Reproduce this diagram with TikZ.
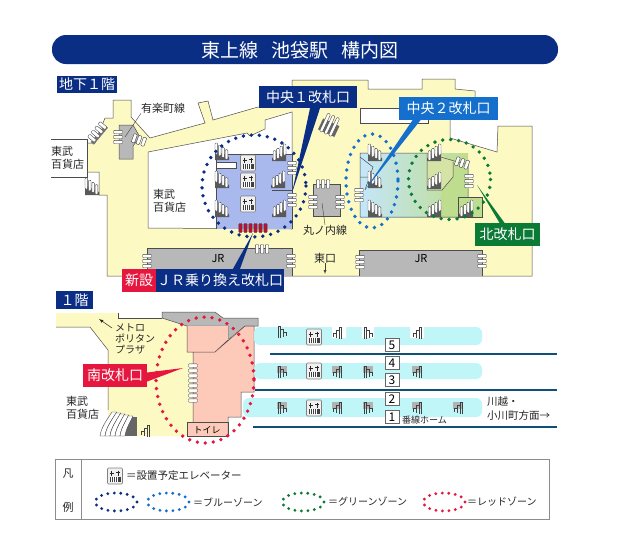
\documentclass[tikz,border=0pt]{standalone}
\usepackage{fontspec}
\setmainfont{Noto Sans CJK JP}
\definecolor{floorcream}{HTML}{FCF9C3}
\definecolor{stationgray}{HTML}{B8B8B8}
\definecolor{darknavy}{HTML}{0B2E85}
\definecolor{zoneblue}{HTML}{1470CC}
\definecolor{zonegreen}{HTML}{0B7A35}
\definecolor{zonered}{HTML}{E5173F}
\definecolor{bluefloor}{HTML}{A9B9EE}
\definecolor{skyfloor}{HTML}{C4E6FA}
\definecolor{pinkfloor}{HTML}{FDC9B9}
\definecolor{greenfloor}{HTML}{BFDD8F}
\definecolor{olivefloor}{HTML}{D5E3A5}
\definecolor{platformcyan}{HTML}{C0F6F8}
\definecolor{trackblue}{HTML}{0F4F78}
\tikzset{
  wall/.style={draw=black!70, line width=0.5pt},
  zonedots/.style={line width=3.8pt, line cap=round, dash pattern=on 0pt off 8pt},
  legenddots/.style={line width=3.2pt, line cap=round, dash pattern=on 0pt off 6.5pt},
  tag/.style={text=white, font=\fontsize{14}{14}\selectfont, inner sep=0pt, anchor=center},
  maptext/.style={font=\fontsize{11}{13}\selectfont, inner sep=0pt, align=left, text=black!85},
  smalltext/.style={font=\fontsize{10}{11}\selectfont, inner sep=0pt, align=left, text=black!85},
  numbox/.style={draw=black!60, fill=white, line width=0.6pt, minimum width=14pt, minimum height=13pt, inner sep=0pt, font=\fontsize{12}{12}\selectfont},
}
\newcommand{\stairicon}[3]{
  \begin{scope}[shift={(#1,#2)},xscale=#3]
    \fill[black!65] (-7,-2) -- (-7,8) -- (7,8) -- (7,5) -- cycle;
    \foreach \i in {0,1,2,3}
      \draw[black!70, fill=white, line width=0.4pt, rounded corners=0.8] (-7+3.4*\i,-9+2.2*\i) rectangle (-4.4+3.4*\i,2+1.8*\i);
  \end{scope}
}
\newcommand{\ministair}[3]{
  \begin{scope}[shift={(#1,#2)},xscale=#3]
    \draw[black!75, line width=0.6pt] (-4,6) -- (-4,-6) -- (-2,-6) -- (-2,6);
    \draw[black!75, line width=0.6pt] (-2,-3) -- (1,-3) -- (1,5);
    \draw[black!75, line width=0.6pt] (1,0) -- (4,0) -- (4,4);
  \end{scope}
}
\newcommand{\elevicon}[2]{
  \begin{scope}[shift={(#1,#2)}]
    \draw[black!50, fill=black!6, line width=0.6pt, rounded corners=1] (-7.5,-8) rectangle (7.5,8);
    \draw[black!85, line width=0.7pt] (-3.5,-5.5) -- (-3.5,-0.5) (-5.5,-3) -- (-1.5,-3) (3,-5.5) -- (3,-0.5) (1,-3.5) -- (5,-3.5);
    \fill[black!75] (-5.5,0.5) rectangle (5.5,6);
    \foreach \i in {-3.5,-1.5,0.5,2.5}
      \draw[white, line width=0.4pt] (\i,1) -- (\i,6);
  \end{scope}
}
\newcommand{\gaterow}[5]{
  \begin{scope}[shift={(#1,#2)},rotate=#3]
    \foreach \i in {1,...,#4}
      \draw[black!75, fill=#5, line width=0.4pt, rounded corners=0.8] (-4.5,{(\i-(#4+1)/2)*5-1.7}) rectangle (4.5,{(\i-(#4+1)/2)*5+1.7});
  \end{scope}
}
\begin{document}
\begin{tikzpicture}[x=1pt,y=-1pt]
\useasboundingbox (0,0) rectangle (636,544);
\fill[white] (0,0) rectangle (636,544);

\fill[darknavy, rounded corners=14pt] (52,35) rectangle (558,64);
\node[tag, font=\fontsize{19}{19}\selectfont] (titlebar) at (300,50) {東上線\hspace{0.7em}池袋駅\hspace{0.7em}構内図};

\draw[wall, fill=floorcream] (113,100) -- (131,100) -- (131,117) -- (150,138) -- (205,123) -- (198,103) -- (208,101) -- (213,120) -- (258,107) -- (292,107) -- (292,80) -- (368,80) -- (368,89) -- (422,89) -- (422,79) -- (455,79) -- (455,89) -- (475,91) -- (475,100) -- (450,120) -- (450,138) -- (497,152) -- (498,126) -- (532,126) -- (532,276) -- (107,276) -- (107,195) -- (99,195) -- (99,172) -- (87,172) -- (87,143) -- (95,143) -- (105,118) -- (113,118) -- cycle;
\draw[wall, fill=white] (51,139) -- (87,139) -- (87,177) -- (51,177);
\draw[wall, fill=white] (148,152) -- (247,133) -- (250,136) -- (265,129) -- (265,120) -- (292,112) -- (292,229) -- (148,228) -- cycle;
\draw[wall, fill=white] (360,108) rectangle (428,123);
\fill[bluefloor] (216,154) rectangle (292,229);
\draw[wall] (216,229) -- (216,154) -- (292,154) -- (292,229);
\draw[wall, fill=white] (216,162) rectangle (236,168);
\draw[wall] (292,190) -- (272,190);

\draw[wall, fill=stationgray] (119,125) -- (133,125) -- (140,137) -- (133,146) -- (133,159) -- (119,159) -- cycle;
\draw[wall, fill=stationgray] (313,184) rectangle (340,216);
\draw[wall, fill=stationgray] (147,276) -- (147,248) -- (292,248) -- (292,276);
\draw[wall, fill=stationgray] (359,276) -- (359,250) -- (482,250) -- (482,276);

\shade[left color=skyfloor, middle color=white, right color=greenfloor] (360,153) rectangle (468,217);
\fill[greenfloor] (442,155) -- (468,165) -- (468,217) -- (438,217) -- (442,190) -- (453,177) -- (453,162) -- cycle;
\fill[olivefloor] (427,153) -- (442,155) -- (453,162) -- (453,177) -- (442,190) -- (427,190) -- cycle;
\draw[wall] (360,217) -- (360,153) -- (427,153) -- (468,165) -- (468,217) -- cycle;
\draw[wall] (427,153) -- (427,190) -- (442,190) -- (453,177) -- (453,162);
\draw[wall] (360,157) -- (373,167) -- (365,190) (360,177) -- (372,177);
\draw[wall, fill=greenfloor] (458,197) rectangle (482,217);

\stairicon{222}{152}{1}
\stairicon{222}{180}{1}
\stairicon{222}{209}{1}
\stairicon{279}{153}{-1}
\stairicon{278}{180}{-1}
\stairicon{279}{209}{-1}
\stairicon{92}{187}{1}
\stairicon{375}{153}{1}
\stairicon{375}{180}{1}
\stairicon{375}{209}{1}
\stairicon{434}{153}{-1}
\stairicon{434}{181}{-1}
\stairicon{434}{209}{-1}
\stairicon{466}{209}{-1}

\begin{scope}[shift={(97,133)},rotate=-40]
  \fill[black!55] (1,-11) rectangle (5,11);
  \foreach \i in {0,1,2,3}
    \draw[black!70, fill=white, line width=0.4pt, rounded corners=1] (-5,-11+5.5*\i) rectangle (4,-7.5+5.5*\i);
\end{scope}
\begin{scope}[shift={(330,125)},rotate=65]
  \fill[black!60] (-9,-9) rectangle (3,9);
  \foreach \i in {0,1,2}
    \draw[black!70, fill=white, line width=0.4pt, rounded corners=1] (-10,-7+5*\i) rectangle (10,-4+5*\i);
\end{scope}

\gaterow{118}{137}{0}{3}{white}
\gaterow{139}{140}{70}{3}{white}
\gaterow{292}{168}{0}{3}{white}
\gaterow{292}{200}{0}{3}{white}
\gaterow{253}{228}{90}{6}{zonered!80!black}
\gaterow{262}{249}{90}{3}{white}
\gaterow{147}{261}{0}{3}{white}
\gaterow{291}{261}{0}{3}{white}
\gaterow{323}{184}{90}{3}{white}
\gaterow{313}{202}{0}{3}{white}
\gaterow{340}{202}{0}{3}{white}
\gaterow{359}{195}{0}{3}{white}
\gaterow{360}{262}{0}{3}{white}
\gaterow{482}{261}{0}{3}{white}
\gaterow{469}{181}{0}{3}{white}
\gaterow{462}{163}{70}{3}{white}

\elevicon{248}{163}
\elevicon{248}{181}
\elevicon{248}{204}

\draw[zonedots, draw=darknavy] (254,186) ellipse [x radius=52, y radius=51];
\draw[zonedots, draw=zoneblue] (372,181) ellipse [x radius=26, y radius=47];
\draw[zonedots, draw=zonegreen] (449.5,179.5) ellipse [x radius=41, y radius=40];

\node[fill=darknavy, minimum width=60pt, minimum height=17pt, tag] (floorb) at (87,84.5) {地下１階};
\node[fill=darknavy, minimum width=98pt, minimum height=22pt, tag] (gatenaka) at (308,97) {中央１改札口};
\node[fill=zoneblue, minimum width=99pt, minimum height=23pt, tag] (gatenakb) at (448.5,108.5) {中央２改札口};
\node[fill=zonegreen, minimum width=65pt, minimum height=23pt, tag] (gatekita) at (507.5,234.5) {北改札口};
\node[fill=zonered, minimum width=34pt, minimum height=23pt, tag] (newmark) at (139,280.5) {新設};
\node[fill=darknavy, minimum width=128pt, minimum height=23pt, tag] (gatejr) at (220,280.5) {ＪＲ乗り換え改札口};

\coordinate (tipnaka) at (292,193);
\coordinate (tipnakb) at (365,190);
\coordinate (tipkita) at (477,185);
\coordinate (tipjr) at (253,233);
\fill[darknavy] ([xshift=2]gatenaka.south) -- ([xshift=12]gatenaka.south) -- (tipnaka) -- cycle;
\fill[zoneblue] ([xshift=-36]gatenakb.south) -- ([xshift=-28]gatenakb.south) -- (tipnakb) -- cycle;
\fill[zonegreen] ([xshift=-8]gatekita.north) -- ([xshift=-3]gatekita.north) -- (tipkita) -- cycle;
\fill[darknavy] ([xshift=13]gatejr.north) -- ([xshift=20]gatejr.north) -- (tipjr) -- cycle;

\node[maptext, anchor=west] (tobua) at (51,158) {東武\\百貨店};
\node[maptext, anchor=west] (tobub) at (153,201) {東武\\百貨店};
\node[maptext, anchor=west] (yuraku) at (141,108) {有楽町線};
\node[maptext, anchor=north] (maruno) at (325,225) {丸ノ内線};
\node[maptext] (higashi) at (325,258) {東口};
\node[font=\fontsize{11}{11}\selectfont, inner sep=0pt] (jra) at (218,259) {JR};
\node[font=\fontsize{11}{11}\selectfont, inner sep=0pt] (jrb) at (421,259) {JR};
\coordinate (yurakuend) at (125,137);
\coordinate (marunoend) at (322,203);
\coordinate (higashiend) at (325,274);
\draw[black!75, line width=0.4pt] (yuraku.south west) -- (yurakuend);
\draw[black!75, line width=0.4pt] (maruno.north) -- (marunoend);
\draw[black!75, line width=0.4pt, -latex] (higashi.south) -- (higashiend);

\fill[floorcream] (56,313) -- (118,313) -- (118,318) -- (162,318) -- (187,326) -- (187,352) -- (193,352) -- (193,422) -- (187,422) -- (187,436) -- (108,436) -- (108,350) -- (90,327) -- (56,327) -- cycle;
\draw[wall] (118,313) -- (118,318) -- (162,318);
\draw[wall] (56,327) -- (90,327) -- (108,350) -- (108,410);
\draw[wall, fill=stationgray] (162,312) -- (215,312) -- (223,318) -- (258,318) -- (258,326) -- (245,326) -- (228,340) -- (228,326) -- (187,326) -- (162,318) -- cycle;
\fill[pinkfloor] (187,326) -- (228,326) -- (228,340) -- (245,326) -- (254,326) -- (254,392) -- (241,392) -- (241,417) -- (228,417) -- (228,436) -- (187,436) -- (187,422) -- (193,422) -- (193,352) -- (187,352) -- cycle;
\draw[wall] (187,326) -- (187,352) -- (215,352) -- (245,326) -- (254,326) -- (254,392) -- (241,392) -- (241,417) -- (228,417) -- (228,436) (193,352) -- (193,422) (228,340) -- (215,352);
\draw[wall] (187,422) rectangle (228,436);
\node[font=\fontsize{9}{9}\selectfont, inner sep=0pt] (toilet) at (207,430) {トイレ};
\gaterow{193}{383}{0}{8}{white}

\fill[platformcyan, rounded corners=6pt] (254,327) rectangle (482,345);
\fill[platformcyan, rounded corners=6pt] (254,363) rectangle (482,379);
\fill[platformcyan, rounded corners=6pt] (243,398) rectangle (482,417);
\fill[white] (332,325) rectangle (346,338) (362,325) rectangle (374,338) (410,325) rectangle (424,338);
\draw[line width=2.4pt, draw=trackblue] (270,354) -- (557,354);
\draw[line width=2.4pt, draw=trackblue] (255,390) -- (557,390);
\draw[line width=2.4pt, draw=trackblue] (253,427) -- (557,427);

\foreach \px/\py in {337/372,368/372,417/372,337/408,368/408,417/408,458/408,282/372,282/408}
  \fill[black!30] (\px-5,\py-6) rectangle (\px+5,\py+1);
\ministair{282}{332}{1}
\ministair{282}{372}{1}
\ministair{282}{408}{1}
\foreach \py in {333,372,408} {
  \ministair{337}{\py}{-1}
  \ministair{368}{\py}{1}
  \ministair{417}{\py}{-1}
}
\ministair{458}{408}{-1}
\elevicon{314}{337}
\elevicon{314}{371}
\elevicon{314}{408}

\node[numbox] (plat5) at (392,345) {5};
\node[numbox] (plat4) at (392,363) {4};
\node[numbox] (plat3) at (392,380) {3};
\node[numbox] (plat2) at (392,399) {2};
\node[numbox] (plat1) at (392,417) {1};
\node[font=\fontsize{9}{9}\selectfont, inner sep=0pt, anchor=west, text=black!85] (bansen) at (402,420) {番線ホーム};
\node[maptext, anchor=west, font=\fontsize{10.5}{14}\selectfont] (kawagoe) at (487,409) {川越・\\小川町方面→};

\fill[black!60] (123,417) -- (137,417) -- (137,436) -- (123,436) -- cycle;
\foreach \i in {0,1,2,3,4}
  \draw[black!75, fill=white, line width=0.4pt] (100+5*\i,436) .. controls (101+5*\i,428) and (106+5*\i,421) .. (112+4*\i,412+\i) -- (117+4*\i,412+\i) .. controls (111+5*\i,421) and (106+5*\i,428) .. (105+5*\i,436) -- cycle;
\ministair{145}{431}{-1}

\draw[zonedots, draw=zonered] (205,380) ellipse [x radius=49, y radius=63];

\node[fill=darknavy, minimum width=37pt, minimum height=18pt, tag] (floorone) at (74.5,300) {１階};
\node[fill=zonered, minimum width=64pt, minimum height=23pt, tag] (gateminami) at (115,375.5) {南改札口};
\coordinate (tipminami) at (183,368);
\fill[zonered] ([yshift=-6]gateminami.east) -- ([yshift=3]gateminami.east) -- (tipminami) -- cycle;

\node[smalltext, anchor=west] (metro) at (115,339) {メトロ\\ポリタン\\プラザ};
\coordinate (metroend) at (99,319);
\draw[black!85, line width=0.5pt, -latex] (112,328) -- (metroend);
\node[maptext, anchor=west] (tobuc) at (66,408) {東武\\百貨店};

\draw[black!45, line width=0.7pt] (55,459) rectangle (549,519);
\draw[black!45, line width=0.7pt] (81,459) -- (81,519);
\node[maptext] (hanrei) at (68,474) {凡};
\node[maptext] (hanreib) at (68,507) {例};
\elevicon{115}{476}
\node[smalltext, anchor=west, font=\fontsize{10.5}{11}\selectfont] (legendelev) at (126,476) {＝設置予定エレベーター};
\draw[legenddots, draw=darknavy] (116,502) ellipse [x radius=21, y radius=9];
\draw[legenddots, draw=zoneblue] (168,502) ellipse [x radius=21, y radius=9];
\draw[legenddots, draw=zonegreen] (303,502) ellipse [x radius=21, y radius=9];
\draw[legenddots, draw=zonered] (444,502) ellipse [x radius=21, y radius=9];
\node[smalltext, anchor=west] (legendblue) at (193,502) {＝ブルーゾーン};
\node[smalltext, anchor=west] (legendgreen) at (328,502) {＝グリーンゾーン};
\node[smalltext, anchor=west] (legendred) at (467,502) {＝レッドゾーン};
\end{tikzpicture}
\end{document}
